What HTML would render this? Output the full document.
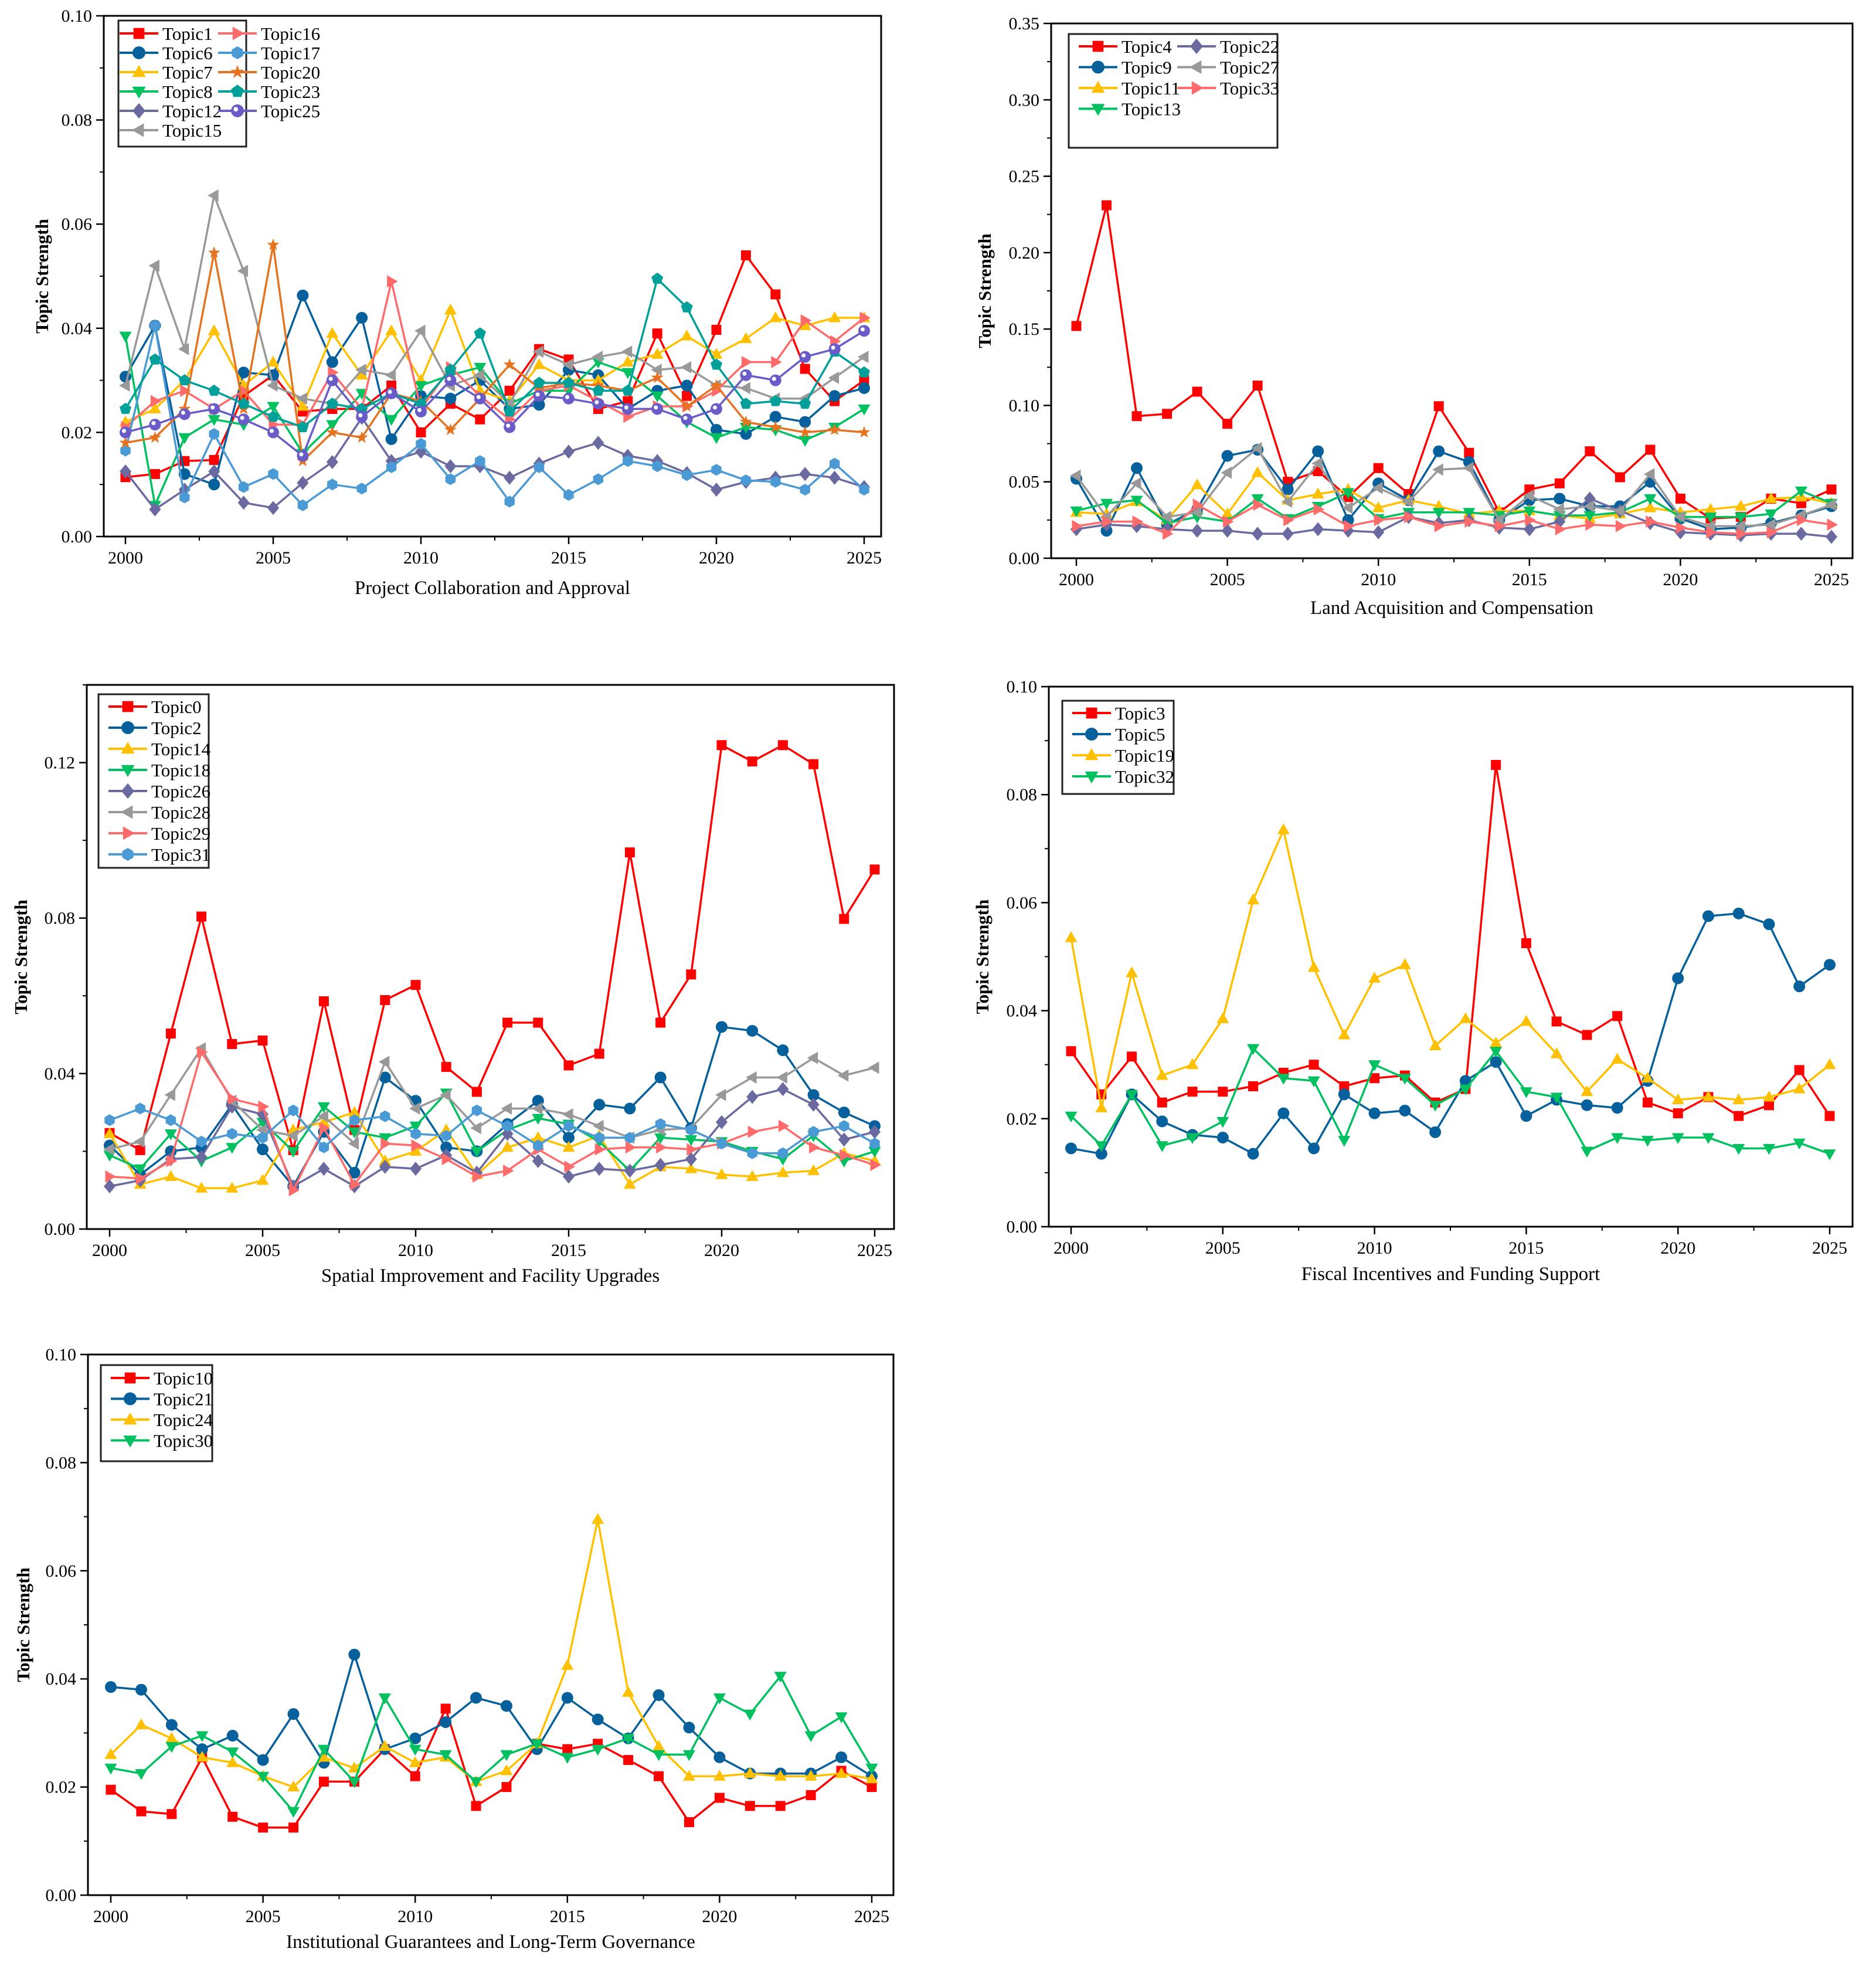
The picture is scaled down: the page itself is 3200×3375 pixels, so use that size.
<!DOCTYPE html>
<html><head><meta charset="utf-8">
<style>
html,body{margin:0;padding:0;background:#fff;}
svg{display:block;}
svg text{font-family:"Liberation Serif",serif;fill:#000;}
</style></head>
<body>
<svg id="fig" xmlns="http://www.w3.org/2000/svg" width="3200" height="3375" viewBox="0 0 3200 3375" font-family="Liberation Serif, serif">
<rect x="0" y="0" width="3200" height="3375" fill="#fff"/>
</svg>
<script>
// ---------- data ----------
const years = [2000,2001,2002,2003,2004,2005,2006,2007,2008,2009,2010,2011,2012,2013,2014,2015,2016,2017,2018,2019,2020,2021,2022,2023,2024,2025];

// Panel 1: Project Collaboration and Approval
const p1Topic1  = [0.0114,0.012,0.0145,0.0147,0.027,0.031,0.024,0.0245,0.0245,0.029,0.020,0.0255,0.0225,0.028,0.036,0.034,0.0245,0.026,0.039,0.027,0.0397,0.054,0.0465,0.0322,0.026,0.030];
const p1Topic6  = [0.0307,0.0405,0.012,0.010,0.0315,0.031,0.0463,0.0335,0.042,0.0187,0.027,0.0265,0.030,0.0245,0.0253,0.032,0.031,0.0245,0.028,0.029,0.0205,0.0197,0.023,0.022,0.027,0.0285];
const p1Topic7  = [0.022,0.0245,0.030,0.0395,0.029,0.0335,0.025,0.039,0.031,0.0395,0.030,0.0435,0.028,0.026,0.033,0.030,0.030,0.0335,0.035,0.0385,0.035,0.038,0.042,0.0405,0.042,0.042];
const p1Topic8  = [0.0385,0.006,0.019,0.0225,0.0215,0.025,0.016,0.0215,0.0275,0.0225,0.029,0.031,0.0325,0.0255,0.028,0.028,0.0335,0.0315,0.027,0.022,0.019,0.021,0.0205,0.0185,0.021,0.0245];
const p1Topic12 = [0.0125,0.0052,0.009,0.0125,0.0065,0.0055,0.0103,0.0143,0.0228,0.0145,0.0163,0.0135,0.0135,0.0113,0.014,0.0163,0.018,0.0155,0.0145,0.0122,0.009,0.0105,0.0113,0.012,0.0113,0.0095];
const p1Topic15 = [0.029,0.052,0.036,0.0655,0.051,0.029,0.0265,0.0255,0.032,0.031,0.0395,0.029,0.031,0.0255,0.0355,0.033,0.0345,0.0355,0.032,0.0325,0.029,0.0285,0.0265,0.0265,0.0305,0.0345];
const p1Topic16 = [0.021,0.026,0.028,0.0245,0.028,0.0215,0.0215,0.0315,0.0245,0.049,0.0245,0.0325,0.027,0.0225,0.028,0.029,0.026,0.023,0.025,0.025,0.028,0.0335,0.0335,0.0415,0.0375,0.042];
const p1Topic17 = [0.0165,0.0405,0.0075,0.0197,0.0095,0.012,0.006,0.010,0.0092,0.0133,0.0178,0.011,0.0145,0.0067,0.0133,0.008,0.011,0.0145,0.0135,0.0118,0.0128,0.0108,0.0105,0.009,0.014,0.009];
const p1Topic20 = [0.018,0.019,0.0245,0.0545,0.0245,0.056,0.0145,0.020,0.019,0.0275,0.026,0.0205,0.0265,0.033,0.0285,0.0295,0.029,0.028,0.0305,0.025,0.029,0.022,0.021,0.020,0.0205,0.020];
const p1Topic23 = [0.0245,0.034,0.030,0.028,0.0255,0.023,0.021,0.0255,0.0245,0.0275,0.0255,0.032,0.039,0.024,0.0295,0.0295,0.028,0.028,0.0495,0.044,0.033,0.0255,0.026,0.0255,0.0355,0.0315];
const p1Topic25 = [0.020,0.0215,0.0235,0.0245,0.0225,0.020,0.0155,0.030,0.023,0.0275,0.024,0.030,0.0265,0.021,0.027,0.0265,0.0255,0.0245,0.0245,0.0225,0.0245,0.031,0.030,0.0345,0.036,0.0395];

// Panel 2: Land Acquisition and Compensation
const p2Topic4  = [0.152,0.231,0.093,0.0945,0.109,0.088,0.113,0.050,0.057,0.040,0.059,0.042,0.0995,0.069,0.030,0.045,0.049,0.070,0.053,0.071,0.039,0.026,0.027,0.039,0.036,0.045];
const p2Topic9  = [0.052,0.018,0.059,0.022,0.032,0.067,0.071,0.045,0.070,0.025,0.049,0.038,0.070,0.063,0.025,0.038,0.039,0.034,0.034,0.050,0.026,0.019,0.020,0.023,0.028,0.034];
const p2Topic11 = [0.030,0.029,0.037,0.025,0.048,0.029,0.056,0.038,0.042,0.045,0.033,0.038,0.034,0.029,0.031,0.031,0.028,0.026,0.029,0.033,0.030,0.032,0.034,0.039,0.040,0.036];
const p2Topic13 = [0.031,0.036,0.038,0.023,0.027,0.024,0.039,0.026,0.034,0.043,0.026,0.030,0.030,0.030,0.028,0.031,0.028,0.028,0.030,0.039,0.027,0.027,0.027,0.029,0.044,0.036];
const p2Topic22 = [0.019,0.022,0.021,0.019,0.018,0.018,0.016,0.016,0.019,0.018,0.017,0.027,0.023,0.025,0.020,0.019,0.024,0.039,0.031,0.023,0.017,0.016,0.015,0.016,0.016,0.014];
const p2Topic27 = [0.054,0.027,0.049,0.027,0.030,0.056,0.072,0.037,0.062,0.033,0.046,0.037,0.058,0.059,0.025,0.041,0.032,0.034,0.031,0.055,0.027,0.021,0.021,0.022,0.028,0.035];
const p2Topic33 = [0.021,0.024,0.024,0.016,0.035,0.024,0.035,0.025,0.032,0.021,0.025,0.027,0.021,0.024,0.021,0.025,0.019,0.022,0.021,0.024,0.020,0.017,0.016,0.017,0.025,0.022];

// Panel 3: Spatial Improvement and Facility Upgrades
const p3Topic0  = [0.0247,0.0203,0.0503,0.0804,0.0476,0.0485,0.0203,0.0586,0.0255,0.0589,0.0628,0.0417,0.0353,0.0531,0.0531,0.0421,0.0451,0.0969,0.0531,0.0655,0.1245,0.1203,0.1245,0.1196,0.0798,0.0925];
const p3Topic2  = [0.0215,0.014,0.020,0.021,0.032,0.0205,0.011,0.025,0.0145,0.039,0.033,0.021,0.020,0.027,0.033,0.0235,0.032,0.031,0.039,0.026,0.052,0.051,0.046,0.0345,0.030,0.0265];
const p3Topic14 = [0.0245,0.0115,0.0135,0.0105,0.0105,0.0125,0.0255,0.0275,0.030,0.0175,0.020,0.0255,0.014,0.021,0.0235,0.021,0.024,0.0115,0.016,0.0155,0.014,0.0135,0.0145,0.015,0.0195,0.0175];
const p3Topic18 = [0.019,0.0155,0.0245,0.0175,0.021,0.0275,0.020,0.0315,0.025,0.0235,0.0265,0.035,0.020,0.0255,0.0285,0.027,0.0225,0.015,0.0235,0.023,0.0225,0.020,0.018,0.024,0.0175,0.020];
const p3Topic26 = [0.011,0.0125,0.018,0.0185,0.0315,0.0295,0.011,0.0155,0.011,0.016,0.0155,0.019,0.0145,0.0245,0.0175,0.0135,0.0155,0.015,0.0165,0.018,0.0275,0.034,0.036,0.032,0.023,0.025];
const p3Topic28 = [0.0205,0.0225,0.0345,0.0465,0.033,0.0255,0.024,0.029,0.022,0.043,0.031,0.0345,0.026,0.031,0.031,0.0295,0.0265,0.0235,0.0255,0.026,0.0345,0.039,0.039,0.044,0.0395,0.0415];
const p3Topic29 = [0.0135,0.013,0.0175,0.0455,0.0335,0.0315,0.010,0.026,0.0115,0.022,0.0215,0.018,0.0135,0.015,0.0205,0.016,0.0205,0.021,0.021,0.0205,0.022,0.025,0.0265,0.021,0.019,0.0165];
const p3Topic31 = [0.028,0.031,0.028,0.0225,0.0245,0.0235,0.0305,0.021,0.028,0.029,0.0245,0.024,0.0305,0.0265,0.0215,0.0265,0.0235,0.0235,0.027,0.0255,0.022,0.0195,0.0195,0.025,0.0265,0.022];

// Panel 4: Fiscal Incentives and Funding Support
const p4Topic3  = [0.0325,0.0245,0.0315,0.023,0.025,0.025,0.026,0.0285,0.030,0.026,0.0275,0.028,0.023,0.0255,0.0855,0.0525,0.038,0.0355,0.039,0.023,0.021,0.024,0.0205,0.0225,0.029,0.0205];
const p4Topic5  = [0.0145,0.0135,0.0245,0.0195,0.017,0.0165,0.0135,0.021,0.0145,0.0245,0.021,0.0215,0.0175,0.027,0.0305,0.0205,0.0235,0.0225,0.022,0.027,0.046,0.0575,0.058,0.056,0.0445,0.0485];
const p4Topic19 = [0.0535,0.022,0.047,0.028,0.030,0.0385,0.0605,0.0735,0.048,0.0355,0.046,0.0485,0.0335,0.0385,0.034,0.038,0.032,0.025,0.031,0.0275,0.0235,0.024,0.0235,0.024,0.0255,0.030];
const p4Topic32 = [0.0205,0.015,0.0245,0.015,0.0165,0.0195,0.033,0.0275,0.027,0.016,0.030,0.0275,0.0225,0.0255,0.0325,0.025,0.024,0.014,0.0165,0.016,0.0165,0.0165,0.0145,0.0145,0.0155,0.0135];

// Panel 5: Institutional Guarantees and Long-Term Governance
const p5Topic10 = [0.0195,0.0155,0.015,0.0255,0.0145,0.0125,0.0125,0.021,0.021,0.027,0.022,0.0345,0.0165,0.020,0.028,0.027,0.028,0.025,0.022,0.0135,0.018,0.0165,0.0165,0.0185,0.023,0.020];
const p5Topic21 = [0.0385,0.038,0.0315,0.027,0.0295,0.025,0.0335,0.0245,0.0445,0.027,0.029,0.032,0.0365,0.035,0.027,0.0365,0.0325,0.029,0.037,0.031,0.0255,0.0225,0.0225,0.0225,0.0255,0.022];
const p5Topic24 = [0.026,0.0315,0.029,0.0255,0.0245,0.022,0.020,0.0255,0.0235,0.0275,0.0245,0.0255,0.021,0.023,0.028,0.0425,0.0695,0.0375,0.0275,0.022,0.022,0.0225,0.022,0.022,0.0225,0.0215];
const p5Topic30 = [0.0235,0.0225,0.0275,0.0295,0.0265,0.022,0.0155,0.027,0.021,0.0365,0.027,0.026,0.021,0.026,0.028,0.0255,0.027,0.029,0.026,0.026,0.0365,0.0335,0.0405,0.0295,0.033,0.0235];

const p1Ticks = ["0.00","0.02","0.04","0.06","0.08","0.10"];
const p2Ticks = ["0.00","0.05","0.10","0.15","0.20","0.25","0.30","0.35"];
const p3Ticks = ["0.00","0.04","0.08","0.12"];
const p4Ticks = ["0.00","0.02","0.04","0.06","0.08","0.10"];
const p5Ticks = ["0.00","0.02","0.04","0.06","0.08","0.10"];
const xTicks = [2000,2005,2010,2015,2020,2025];

// ---------- drawing ----------
const NS = "http://www.w3.org/2000/svg";
const svg = document.getElementById('fig');
const FONT = '"Liberation Serif", serif';
function mk(tag, attrs, parent){
  const e = document.createElementNS(NS, tag);
  for (const k in attrs) e.setAttribute(k, attrs[k]);
  if (tag === 'text') e.setAttribute('font-family', FONT);
  (parent||svg).appendChild(e);
  return e;
}
const C = {red:'#ff0000', blue:'#05609c', yellow:'#ffc000', green:'#00c060', purple:'#6a6aa0', gray:'#999999', pink:'#ff6b6b', lblue:'#4a9ad6', orange:'#e5731f', teal:'#00a09a', lav:'#6a5cc8'};

function marker(g, shape, x, y, col, r){
  let s;
  const p = pts => pts.map(q=>q[0].toFixed(1)+','+q[1].toFixed(1)).join(' ');
  if (shape==='square') s = mk('rect',{x:x-r*0.85,y:y-r*0.85,width:r*1.7,height:r*1.7,fill:col},g);
  else if (shape==='circle') s = mk('circle',{cx:x,cy:y,r:r,fill:col},g);
  else if (shape==='circlew'){ s = mk('circle',{cx:x,cy:y,r:r,fill:col},g); mk('circle',{cx:x-r*0.25,cy:y-r*0.25,r:r*0.35,fill:'#fff'},g); }
  else if (shape==='up') s = mk('polygon',{points:p([[x,y-r*1.1],[x+r*1.05,y+r*0.75],[x-r*1.05,y+r*0.75]]),fill:col},g);
  else if (shape==='down') s = mk('polygon',{points:p([[x,y+r*1.1],[x+r*1.05,y-r*0.75],[x-r*1.05,y-r*0.75]]),fill:col},g);
  else if (shape==='left') s = mk('polygon',{points:p([[x-r*1.1,y],[x+r*0.75,y-r*1.05],[x+r*0.75,y+r*1.05]]),fill:col},g);
  else if (shape==='right') s = mk('polygon',{points:p([[x+r*1.1,y],[x-r*0.75,y-r*1.05],[x-r*0.75,y+r*1.05]]),fill:col},g);
  else if (shape==='diamond') s = mk('polygon',{points:p([[x,y-r*1.2],[x+r,y],[x,y+r*1.2],[x-r,y]]),fill:col},g);
  else if (shape==='star'){ const a=[]; for(let i=0;i<10;i++){const rr=i%2?r*0.45:r*1.1; const t=-Math.PI/2+i*Math.PI/5; a.push([x+rr*Math.cos(t),y+rr*Math.sin(t)]);} s = mk('polygon',{points:p(a),fill:col},g); }
  else if (shape==='pent'){ const a=[]; for(let i=0;i<5;i++){const t=-Math.PI/2+i*2*Math.PI/5; a.push([x+r*1.05*Math.cos(t),y+r*1.05*Math.sin(t)]);} s = mk('polygon',{points:p(a),fill:col},g); }
  else if (shape==='hex'){ const a=[]; for(let i=0;i<6;i++){const t=-Math.PI/2+i*Math.PI/3; a.push([x+r*Math.cos(t),y+r*Math.sin(t)]);} s = mk('polygon',{points:p(a),fill:col},g); }
  return s;
}

function panel(cfg){
  const g = mk('g',{});
  
  
  const xs = yr => cfg.x0 + (yr-2000)*(cfg.x25-cfg.x0)/25;
  const ys = v => cfg.b - v*(cfg.b-cfg.t)/cfg.ymax;
  const fr = mk('rect',{x:cfg.l,y:cfg.t,width:cfg.r-cfg.l,height:cfg.b-cfg.t,fill:'none',stroke:'#000','stroke-width':3},g);
  
  
  const yg = mk('g',{},g);
  
  
  cfg.ticks.forEach((lab,i)=>{
    const v = parseFloat(lab);
    const y = ys(v);
    mk('line',{x1:cfg.l-13,x2:cfg.l,y1:y,y2:y,stroke:'#000','stroke-width':2.5},yg);
    const t = mk('text',{x:cfg.l-20,y:y+10,'font-size':30,'text-anchor':'end'},yg);
    t.textContent = lab;
    
    
    if (i < cfg.ticks.length-1 || cfg.minorTop){
      const ym = ys(v + cfg.step/2);
      if (ym >= cfg.t-1) mk('line',{x1:cfg.l-7,x2:cfg.l,y1:ym,y2:ym,stroke:'#000','stroke-width':2},yg);
    }
  });
  const xg = mk('g',{},g);
  
  
  xTicks.forEach((yr,i)=>{
    const x = xs(yr);
    mk('line',{x1:x,x2:x,y1:cfg.b,y2:cfg.b+13,stroke:'#000','stroke-width':2.5},xg);
    const t = mk('text',{x:x,y:cfg.b+46,'font-size':30,'text-anchor':'middle'},xg);
    t.textContent = yr;
    
    
    if (i < xTicks.length-1){ const xm = xs(yr+2.5); mk('line',{x1:xm,x2:xm,y1:cfg.b,y2:cfg.b+7,stroke:'#000','stroke-width':2},xg); }
  });
  const xt = mk('text',{x:(cfg.l+cfg.r)/2,y:cfg.xtY,'font-size':33,'text-anchor':'middle'},g);
  xt.textContent = cfg.xtitle;
  
  
  const yc = (cfg.t+cfg.b)/2;
  const yt = mk('text',{x:cfg.ytX,y:yc,'font-size':31,'text-anchor':'middle','font-weight':'bold',transform:`rotate(-90 ${cfg.ytX} ${yc})`},g);
  yt.textContent = 'Topic Strength';
  
  
  cfg.series.forEach(s=>{
    const sg = mk('g',{},g);
    
    
    const d = s.data.map((v,i)=>(i?'L':'M')+xs(years[i]).toFixed(1)+','+ys(v).toFixed(1)).join(' ');
    mk('path',{d:d,fill:'none',stroke:s.color,'stroke-width':3.5,'stroke-linejoin':'round'},sg);
    s.data.forEach((v,i)=>{
      const m = marker(sg, s.shape, xs(years[i]), ys(v), s.color, 10);
      
      
    });
  });
  const L = cfg.legend;
  const lg = mk('g',{},g);
  
  
  mk('rect',{x:L.x,y:L.y,width:L.w,height:L.h,fill:'#fff',stroke:'#222','stroke-width':3},lg);
  cfg.series.forEach((s,i)=>{
    const col = Math.floor(i / L.rows), row = i % L.rows;
    const lx = L.x + (L.pad===undefined?17:L.pad) + col*L.colW, ly = L.y + L.r0 + row*L.dy;
    const e = mk('g',{},lg);
    
    
    mk('line',{x1:lx,x2:lx+66,y1:ly,y2:ly,stroke:s.color,'stroke-width':4},e);
    marker(e, s.shape, lx+33, ly, s.color, 11);
    const t = mk('text',{x:lx+73,y:ly+11,'font-size':31},e);
    t.textContent = s.label;
  });
}

panel({name:'chart-project-collaboration', l:177,r:1503,t:27,b:915,x0:214,x25:1474,ymax:0.10,step:0.02,ticks:p1Ticks,
  xtitle:'Project Collaboration and Approval', xtY:1013, ytX:82,
  legend:{x:202,y:35,w:218,h:215,rows:6,colW:168,r0:22,dy:33,pad:2},
  series:[
    {label:'Topic1',data:p1Topic1,color:C.red,shape:'square'},
    {label:'Topic6',data:p1Topic6,color:C.blue,shape:'circle'},
    {label:'Topic7',data:p1Topic7,color:C.yellow,shape:'up'},
    {label:'Topic8',data:p1Topic8,color:C.green,shape:'down'},
    {label:'Topic12',data:p1Topic12,color:C.purple,shape:'diamond'},
    {label:'Topic15',data:p1Topic15,color:C.gray,shape:'left'},
    {label:'Topic16',data:p1Topic16,color:C.pink,shape:'right'},
    {label:'Topic17',data:p1Topic17,color:C.lblue,shape:'hex'},
    {label:'Topic20',data:p1Topic20,color:C.orange,shape:'star'},
    {label:'Topic23',data:p1Topic23,color:C.teal,shape:'pent'},
    {label:'Topic25',data:p1Topic25,color:C.lav,shape:'circlew'}
  ]});

panel({name:'chart-land-acquisition', l:1793,r:3160,t:40,b:952,x0:1836,x25:3124,ymax:0.35,step:0.05,ticks:p2Ticks,
  xtitle:'Land Acquisition and Compensation', xtY:1047, ytX:1690,
  legend:{x:1823,y:58,w:356,h:194,rows:4,colW:168,r0:21,dy:35.5},
  series:[
    {label:'Topic4',data:p2Topic4,color:C.red,shape:'square'},
    {label:'Topic9',data:p2Topic9,color:C.blue,shape:'circle'},
    {label:'Topic11',data:p2Topic11,color:C.yellow,shape:'up'},
    {label:'Topic13',data:p2Topic13,color:C.green,shape:'down'},
    {label:'Topic22',data:p2Topic22,color:C.purple,shape:'diamond'},
    {label:'Topic27',data:p2Topic27,color:C.gray,shape:'left'},
    {label:'Topic33',data:p2Topic33,color:C.pink,shape:'right'}
  ]});

panel({name:'chart-spatial-improvement', l:148,r:1525,t:1168,b:2096,x0:187,x25:1492,ymax:0.14,step:0.04,ticks:p3Ticks,minorTop:true,
  xtitle:'Spatial Improvement and Facility Upgrades', xtY:2186, ytX:46,
  legend:{x:168,y:1184,w:188,h:296,rows:8,colW:168,r0:21,dy:36},
  series:[
    {label:'Topic0',data:p3Topic0,color:C.red,shape:'square'},
    {label:'Topic2',data:p3Topic2,color:C.blue,shape:'circle'},
    {label:'Topic14',data:p3Topic14,color:C.yellow,shape:'up'},
    {label:'Topic18',data:p3Topic18,color:C.green,shape:'down'},
    {label:'Topic26',data:p3Topic26,color:C.purple,shape:'diamond'},
    {label:'Topic28',data:p3Topic28,color:C.gray,shape:'left'},
    {label:'Topic29',data:p3Topic29,color:C.pink,shape:'right'},
    {label:'Topic31',data:p3Topic31,color:C.lblue,shape:'hex'}
  ]});

panel({name:'chart-fiscal-incentives', l:1789,r:3160,t:1171,b:2092,x0:1827,x25:3121,ymax:0.10,step:0.02,ticks:p4Ticks,
  xtitle:'Fiscal Incentives and Funding Support', xtY:2183, ytX:1686,
  legend:{x:1812,y:1195,w:190,h:159,rows:4,colW:168,r0:21,dy:36},
  series:[
    {label:'Topic3',data:p4Topic3,color:C.red,shape:'square'},
    {label:'Topic5',data:p4Topic5,color:C.blue,shape:'circle'},
    {label:'Topic19',data:p4Topic19,color:C.yellow,shape:'up'},
    {label:'Topic32',data:p4Topic32,color:C.green,shape:'down'}
  ]});

panel({name:'chart-institutional-guarantees', l:150,r:1524,t:2310,b:3232,x0:189,x25:1487,ymax:0.10,step:0.02,ticks:p5Ticks,
  xtitle:'Institutional Guarantees and Long-Term Governance', xtY:3322, ytX:50,
  legend:{x:172,y:2328,w:190,h:164,rows:4,colW:168,r0:22,dy:35.5},
  series:[
    {label:'Topic10',data:p5Topic10,color:C.red,shape:'square'},
    {label:'Topic21',data:p5Topic21,color:C.blue,shape:'circle'},
    {label:'Topic24',data:p5Topic24,color:C.yellow,shape:'up'},
    {label:'Topic30',data:p5Topic30,color:C.green,shape:'down'}
  ]});
</script>
</body></html>
